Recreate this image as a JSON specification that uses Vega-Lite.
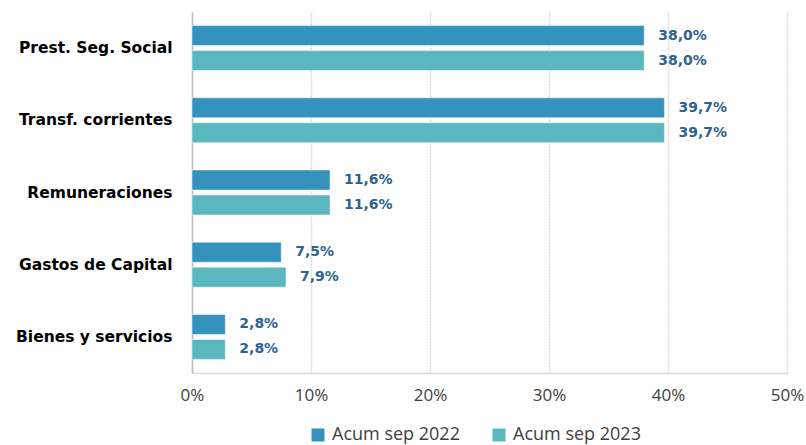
{
  "$schema": "https://vega.github.io/schema/vega-lite/v6.json",
  "width": 595,
  "height": 361,
  "autosize": {"type": "none"},
  "padding": {"left": 192, "top": 12, "right": 19, "bottom": 72},
  "background": "white",
  "config": {
    "locale": {"number": {"decimal": ",", "thousands": ".", "grouping": [3], "currency": ["", " €"]}},
    "view": {"stroke": null},
    "font": "Open Sans"
  },
  "data": {
    "values": [
      {"cat": "Prest. Seg. Social", "serie": "Acum sep 2022", "v": 0.380},
      {"cat": "Prest. Seg. Social", "serie": "Acum sep 2023", "v": 0.380},
      {"cat": "Transf. corrientes", "serie": "Acum sep 2022", "v": 0.397},
      {"cat": "Transf. corrientes", "serie": "Acum sep 2023", "v": 0.397},
      {"cat": "Remuneraciones", "serie": "Acum sep 2022", "v": 0.116},
      {"cat": "Remuneraciones", "serie": "Acum sep 2023", "v": 0.116},
      {"cat": "Gastos de Capital", "serie": "Acum sep 2022", "v": 0.075},
      {"cat": "Gastos de Capital", "serie": "Acum sep 2023", "v": 0.079},
      {"cat": "Bienes y servicios", "serie": "Acum sep 2022", "v": 0.028},
      {"cat": "Bienes y servicios", "serie": "Acum sep 2023", "v": 0.028}
    ]
  },
  "encoding": {
    "y": {
      "field": "cat", "type": "nominal", "sort": null, "title": null,
      "scale": {"paddingInner": 0.377, "paddingOuter": 0.1885},
      "axis": {"ticks": false, "domain": true, "domainColor": "#BFBFBF", "domainWidth": 1.5, "labelFont": "DejaVu Sans", "labelFontWeight": "bold", "labelFontSize": 15.5, "labelColor": "#000000", "labelPadding": 20, "labelLimit": 300}
    },
    "yOffset": {"field": "serie", "type": "nominal", "scale": {"paddingInner": 0.2}},
    "x": {
      "field": "v", "type": "quantitative", "title": null,
      "scale": {"domain": [0, 0.5], "nice": false},
      "axis": {"format": ".0%", "values": [0, 0.1, 0.2, 0.3, 0.4, 0.5], "labelOverlap": false, "labelBound": false, "labelFlush": false, "ticks": false, "domain": true, "domainColor": "#D9D9D9", "domainWidth": 1.5, "grid": true, "gridColor": "#D9D9D9", "gridWidth": 1.5, "gridDash": [2, 1], "labelFontSize": 17, "labelColor": "#404040", "labelPadding": 14, "labelFont": "Open Sans"}
    }
  },
  "layer": [
    {
      "mark": {"type": "bar", "stroke": "white", "strokeWidth": 0.5},
      "encoding": {
        "color": {
          "field": "serie", "type": "nominal", "title": null,
          "scale": {"range": ["#3592BD", "#5BB7BF"]},
          "legend": {"orient": "none", "legendX": 117, "legendY": 414, "direction": "horizontal", "symbolType": "square", "symbolSize": 169, "symbolStrokeWidth": 0, "labelFontSize": 18, "labelColor": "#404040", "labelFont": "Open Sans", "columnPadding": 30, "labelOffset": 5}
        }
      }
    },
    {
      "mark": {"type": "text", "align": "left", "dx": 14, "fontWeight": "bold", "fontSize": 14, "color": "#2E6290", "font": "DejaVu Sans"},
      "encoding": {"text": {"field": "v", "type": "quantitative", "format": ".1%"}}
    }
  ]
}
